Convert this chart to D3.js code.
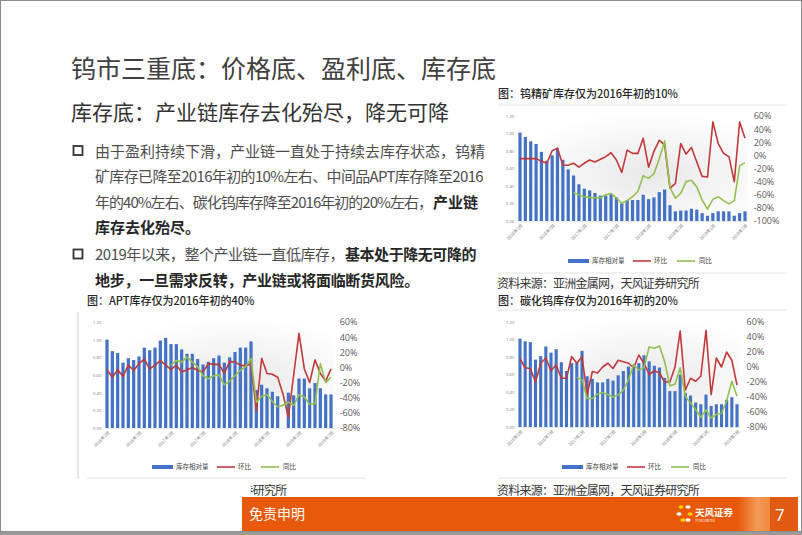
<!DOCTYPE html>
<html>
<head>
<meta charset="utf-8">
<script src="https://cdn.jsdelivr.net/npm/d3@7"></script>
<style>
  body { margin: 0; background: #fff; }
  svg { display: block; }
</style>
</head>
<body>
<script>
// ---- data ----
const months = [
  "2016-01","2016-02","2016-03","2016-04","2016-05","2016-06","2016-07","2016-08","2016-09","2016-10","2016-11","2016-12",
  "2017-01","2017-02","2017-03","2017-04","2017-05","2017-06","2017-07","2017-08","2017-09","2017-10","2017-11","2017-12",
  "2018-01","2018-02","2018-03","2018-04","2018-05","2018-06","2018-07","2018-08","2018-09","2018-10","2018-11","2018-12",
  "2019-01","2019-02","2019-03","2019-04","2019-05","2019-06","2019-07"
];
const tickMonths = ["2016-01","2016-07","2017-01","2017-07","2018-01","2018-07","2019-01","2019-07"];
const tickLabels = ["2016年1月","2016年7月","2017年1月","2017年7月","2018年1月","2018年7月","2019年1月","2019年7月"];
const leftTicks = [0, 0.2, 0.4, 0.6, 0.8, 1.0, 1.2];
const rightTicksOre = [60, 40, 20, 0, -20, -40, -60, -80, -100];
const rightTicks = [60, 40, 20, 0, -20, -40, -60, -80];
const legendNames = ["库存相对量", "环比", "同比"];

// 钨精矿
const oreStock = [1.01,0.96,0.91,0.88,0.79,0.69,0.75,0.83,0.70,0.59,0.52,0.42,0.37,0.35,0.32,0.29,0.29,0.31,0.27,0.20,0.24,0.24,0.24,
  0.30,0.25,0.27,0.33,0.36,0.18,0.11,0.12,0.12,0.14,0.13,0.09,0.06,0.09,0.11,0.11,0.11,0.06,0.09,0.11];
const oreMom = [-5,-5,-5,-5,-9,-12,7,11,-15,-15,-12,-18,-12,-7,-10,-6,-2,4,-7,-26,8,3,3,26,-18,6,23,16,-50,-43,18,2,12,-10,-32,-33,51,18,3,-2,-40,51,26];
const oreYoy = [null,null,null,null,null,null,null,null,null,null,
  -57,-60,-63,-64,-65,-65,-60,-58,-65,-73,-69,-63,-55,-31,-35,-28,-5,22,-49,-65,-58,-40,-38,-48,-68,-82,-67,-63,-69,-74,-69,-16,-11];

// APT
const aptStock = [1.00,0.87,0.85,0.74,0.79,0.77,0.81,0.91,0.88,0.91,0.99,1.02,0.95,0.95,0.89,0.84,0.84,0.78,0.72,0.75,0.79,0.82,0.74,
  0.80,0.86,0.91,0.91,0.98,0.43,0.49,0.45,0.41,0.36,null,0.40,0.37,0.56,0.56,0.45,0.51,0.45,0.38,0.38];
const aptMom = [-3,-13,-3,-12,3,-4,5,11,-2,3,9,3,-3,3,-6,-3,0,-4,-6,5,4,4,-8,8,7,3,2,5,-57,12,-8,-9,-13,-35,-66,-10,45,-2,-20,10,-8,-18,-2];
const aptYoy = [null,null,null,null,null,null,null,null,null,null,null,null,
  3,9,7,14,7,1,-11,-15,-11,-10,-23,-18,-11,-4,1,12,-46,-38,-36,-45,-52,-50,-46,-50,-36,-39,-49,-48,5,-20,-13];

// 碳化钨
const wcStock = [1.01,0.98,0.97,0.77,0.81,0.92,0.85,0.89,0.74,0.64,0.73,0.73,0.87,0.58,0.55,0.51,0.51,0.55,0.53,0.59,0.64,0.69,0.71,
  0.73,0.82,0.75,0.70,0.68,0.56,0.41,0.41,0.60,0.39,0.36,0.28,0.26,0.37,0.24,0.26,0.26,0.31,0.34,0.26];
const wcMom = [11,-1,-2,-20,5,12,-5,3,-15,-15,14,5,14,-37,-6,-8,0,5,-2,9,7,5,-1,16,5,-10,-5,-8,-20,-20,0,48,-31,-15,-19,-12,49,-37,12,0,20,9,-24];
const wcYoy = [null,null,null,null,null,null,null,null,null,null,null,
  -14,-17,-42,-42,-36,-34,-37,-40,-37,-31,-17,3,-4,-1,27,25,28,7,-25,-23,-1,-39,-48,-57,-67,-57,-68,-63,-62,-45,-19,-39];

// ---- page ----
const W = 802, H = 535;
const cjk = "'Noto Sans CJK SC','Noto Sans',sans-serif";
const latin = "'Open Sans','Noto Sans',sans-serif";
const blue = "#4472c4", red = "#c0393b", green = "#92c050";

const svg = d3.select("body").append("svg").attr("width", W).attr("height", H);

// squeeze a text run to a target width with letter-spacing
function fit(t, width) {
  const n = t.text().length;
  const natural = t.node().getComputedTextLength();
  t.attr("letter-spacing", ((width - natural) / n).toFixed(3));
  return t;
}

const defs = svg.append("defs");
const grad = defs.append("radialGradient").attr("id", "plotbg")
  .attr("cx", "58%").attr("cy", "55%").attr("r", "60%");
grad.append("stop").attr("offset", "0%").attr("stop-color", "#e8e8e8");
grad.append("stop").attr("offset", "100%").attr("stop-color", "#ffffff");

// heading
svg.append("text").attr("x", 71).attr("y", 78)
  .attr("font-family", cjk).attr("font-size", 25).attr("fill", "#404040")
  .text("钨市三重底：价格底、盈利底、库存底");
fit(svg.append("text").attr("x", 71).attr("y", 120)
  .attr("font-family", cjk).attr("font-size", 21).attr("fill", "#333")
  .text("库存底：产业链库存去化殆尽，降无可降"), 378);

// bullet text: each run is [text, bold, x start, fitted width or 0]
const lines = [
  { y: 151, bullet: true, parts: [["由于盈利持续下滑，产业链一直处于持续去库存状态，钨精", false, 95, 0]] },
  { y: 176.5, parts: [["矿库存已降至2016年初的10%左右、中间品APT库存降至2016", false, 95, 388]] },
  { y: 202, parts: [["年的40%左右、碳化钨库存降至2016年初的20%左右，", false, 95, 337], ["产业链", true, 433, 0]] },
  { y: 227.5, parts: [["库存去化殆尽。", true, 95, 0]] },
  { y: 254.5, bullet: true, parts: [["2019年以来，整个产业链一直低库存，", false, 95, 249], ["基本处于降无可降的", true, 345, 131]] },
  { y: 280, parts: [["地步，一旦需求反转，产业链或将面临断货风险。", true, 95, 324]] }
];
lines.forEach(l => {
  if (l.bullet) {
    svg.append("rect").attr("x", 73.5).attr("y", l.y - 5).attr("width", 9).attr("height", 9)
      .attr("fill", "none").attr("stroke", "#333").attr("stroke-width", 1.8);
  }
  l.parts.forEach(p => {
    const t = svg.append("text").attr("x", p[2]).attr("y", l.y + 5.5)
      .attr("font-family", cjk).attr("font-size", 15)
      .attr("font-weight", p[1] ? "bold" : "normal")
      .attr("fill", p[1] ? "#262626" : "#4d4d4d")
      .text(p[0]);
    if (p[3]) fit(t, p[3]);
  });
});

// ---- charts ----
function drawChart(c) {
  const g = svg.append("g");
  const step = (c.x1 - c.x0) / (months.length - 1);
  const x = d3.scaleBand().domain(months)
    .range([c.x0 - step / 2, c.x1 + step / 2]).paddingInner(0.4).paddingOuter(0.2);
  const cx = d => x(d) + x.bandwidth() / 2;
  const yL = d3.scaleLinear().domain([0, 1.2]).range([c.yb, c.yt]);
  const yR = d3.scaleLinear().domain(c.rDomain).range([c.yb, c.yt]);
  const left = c.x0 - step / 2, right = c.x1 + step / 2;

  // title + rules
  g.append("text").attr("x", c.tx).attr("y", c.ty)
    .attr("font-family", cjk).attr("font-size", 11).attr("font-weight", 500).attr("fill", "#262626")
    .text(c.title);
  if (c.ruleTop) {
    g.append("line").attr("x1", c.tx).attr("x2", c.ruleX2).attr("y1", c.ruleTop).attr("y2", c.ruleTop)
      .attr("stroke", "#e3e3e3").attr("stroke-width", 1.2);
  }
  if (c.ruleBottom) {
    g.append("line").attr("x1", c.tx).attr("x2", c.ruleX2).attr("y1", c.ruleBottom).attr("y2", c.ruleBottom)
      .attr("stroke", "#e3e3e3").attr("stroke-width", 1.2);
  }

  // plot background
  g.append("rect").attr("x", left).attr("y", c.yt)
    .attr("width", right - left).attr("height", c.yb - c.yt).attr("fill", "url(#plotbg)");

  // left axis
  const axL = g.append("g").attr("transform", `translate(${left},0)`)
    .call(d3.axisLeft(yL).tickValues(leftTicks).tickFormat(d3.format(".2f")).tickSize(0).tickPadding(3));
  axL.select(".domain").remove();
  axL.selectAll("text").attr("font-family", latin).attr("font-size", 4.3).attr("fill", "#777");

  // right axis
  const axR = g.append("g").attr("transform", `translate(${right},0)`)
    .call(d3.axisRight(yR).tickValues(c.rTicks).tickFormat(d => d + "%").tickSize(0).tickPadding(c.rPad));
  axR.select(".domain").remove();
  axR.selectAll("text").attr("font-family", latin).attr("font-size", 9).attr("fill", "#595959");

  // x axis
  const axX = g.append("g").attr("transform", `translate(0,${c.yb})`)
    .call(d3.axisBottom(x).tickValues(tickMonths).tickFormat((d, i) => tickLabels[i]).tickSize(0).tickPadding(3));
  axX.select(".domain").attr("stroke", "#d9d9d9").attr("stroke-width", 0.6);
  axX.selectAll("text").attr("font-family", cjk).attr("font-size", 4.3).attr("fill", "#777")
    .attr("text-anchor", "end").attr("transform", "rotate(-45)").attr("dx", "-0.3em").attr("dy", "0.6em");

  // bars
  g.append("g").selectAll("rect")
    .data(months.map((m, i) => ({ m, v: c.stock[i] })).filter(d => d.v != null))
    .join("rect")
    .attr("x", d => x(d.m)).attr("width", x.bandwidth())
    .attr("y", d => yL(d.v)).attr("height", d => c.yb - yL(d.v))
    .attr("fill", blue);

  // lines
  const line = d3.line().defined(d => d.v != null).x(d => cx(d.m)).y(d => yR(d.v));
  [[c.mom, red], [c.yoy, green]].forEach(([arr, col]) => {
    g.append("path")
      .datum(months.map((m, i) => ({ m, v: arr[i] })))
      .attr("fill", "none").attr("stroke", col).attr("stroke-width", 1.6)
      .attr("stroke-linejoin", "round").attr("d", line);
  });

  // legend
  const lg = g.append("g").attr("transform", `translate(${c.lx},${c.ly})`)
    .attr("font-family", cjk).attr("font-size", 6.5).attr("fill", "#404040");
  lg.append("rect").attr("x", 0).attr("y", -2).attr("width", 21).attr("height", 4).attr("fill", blue);
  lg.append("text").attr("x", 24).attr("y", 2.3).text(legendNames[0]);
  lg.append("line").attr("x1", 65).attr("x2", 83).attr("y1", 0).attr("y2", 0).attr("stroke", red).attr("stroke-width", 1.6);
  lg.append("text").attr("x", 86).attr("y", 2.3).text(legendNames[1]);
  lg.append("line").attr("x1", 109).attr("x2", 127).attr("y1", 0).attr("y2", 0).attr("stroke", green).attr("stroke-width", 1.6);
  lg.append("text").attr("x", 131).attr("y", 2.3).text(legendNames[2]);

  // source
  fit(g.append("text").attr("x", c.srcX).attr("y", c.srcY)
    .attr("font-family", cjk).attr("font-size", 12).attr("fill", "#333")
    .text("资料来源：亚洲金属网，天风证券研究所"), 202);
}

drawChart({
  title: "图：钨精矿库存仅为2016年初的10%", tx: 498, ty: 98, ruleTop: 105, ruleBottom: 273, ruleX2: 787,
  x0: 520, x1: 745, yt: 116, yb: 221, rDomain: [-100, 60], rTicks: rightTicksOre, rPad: 6,
  stock: oreStock, mom: oreMom, yoy: oreYoy, lx: 568, ly: 261,
  srcX: 497, srcY: 288
});
drawChart({
  title: "图：APT库存仅为2016年初的40%", tx: 87, ty: 305, ruleBottom: 478, ruleX2: 366,
  x0: 107, x1: 331, yt: 322, yb: 428, rDomain: [-80, 60], rTicks: rightTicks, rPad: 6,
  stock: aptStock, mom: aptMom, yoy: aptYoy, lx: 152, ly: 467,
  srcX: 84.5, srcY: 495
});
drawChart({
  title: "图：碳化钨库存仅为2016年初的20%", tx: 498, ty: 305, ruleTop: 310, ruleBottom: 478, ruleX2: 787,
  x0: 520, x1: 737, yt: 322, yb: 427, rDomain: [-80, 60], rTicks: rightTicks, rPad: 7,
  stock: wcStock, mom: wcMom, yoy: wcYoy, lx: 562, ly: 467,
  srcX: 497, srcY: 495
});

// left edge of APT block and the white patch covering its source line
svg.append("line").attr("x1", 78).attr("x2", 78).attr("y1", 312).attr("y2", 480)
  .attr("stroke", "#d0d0d0").attr("stroke-width", 1);
svg.append("rect").attr("x", 0).attr("y", 479).attr("width", 250.8).attr("height", 18).attr("fill", "#fff");
svg.append("rect").attr("x", 0).attr("y", 497).attr("width", 242).attr("height", 35).attr("fill", "#fff");

// footer bar
const ft = svg.append("g");
ft.append("rect").attr("x", 242).attr("y", 497).attr("width", 556).attr("height", 34).attr("fill", "#e8590c");
const fg = defs.append("linearGradient").attr("id", "stripe").attr("x1", "0").attr("x2", "1");
fg.append("stop").attr("offset", "0%").attr("stop-color", "#e8590c");
fg.append("stop").attr("offset", "60%").attr("stop-color", "#f39a55");
fg.append("stop").attr("offset", "100%").attr("stop-color", "#ef8a40");
ft.append("rect").attr("x", 738).attr("y", 497).attr("width", 32).attr("height", 34).attr("fill", "url(#stripe)");
ft.append("rect").attr("x", 770).attr("y", 497).attr("width", 28).attr("height", 34).attr("fill", "#e05a12");
ft.append("text").attr("x", 249).attr("y", 519).attr("font-family", cjk).attr("font-size", 14).attr("fill", "#fff").text("免责申明");
ft.append("text").attr("x", 775).attr("y", 521).attr("font-family", latin).attr("font-size", 17).attr("fill", "#fff").text("7");
// logo
const logo = ft.append("g").attr("transform", "translate(685,514)");
[[-4, -7, "#ffd200"], [3, -7, "#fff"], [-6, 0, "#fff"], [5, 0, "#ffd200"], [-2, 6, "#ffd200"], [3, 6, "#fff"]].forEach(p => {
  logo.append("ellipse").attr("cx", p[0]).attr("cy", p[1]).attr("rx", 2.6).attr("ry", 1.8).attr("fill", p[2]);
});
ft.append("text").attr("x", 695).attr("y", 516).attr("font-family", cjk).attr("font-size", 9.5)
  .attr("font-weight", "bold").attr("fill", "#fff").text("天风证券");
ft.append("text").attr("x", 695).attr("y", 522).attr("font-family", latin).attr("font-size", 3)
  .attr("fill", "#fff").text("TF SECURITIES");

// slide frame
svg.append("rect").attr("x", 0.5).attr("y", 0.5).attr("width", 801).attr("height", 531)
  .attr("fill", "none").attr("stroke", "#8c8c8c").attr("stroke-width", 1);
svg.append("rect").attr("x", 0).attr("y", 532).attr("width", W).attr("height", 3).attr("fill", "#9a9a9a");
</script>
</body>
</html>
